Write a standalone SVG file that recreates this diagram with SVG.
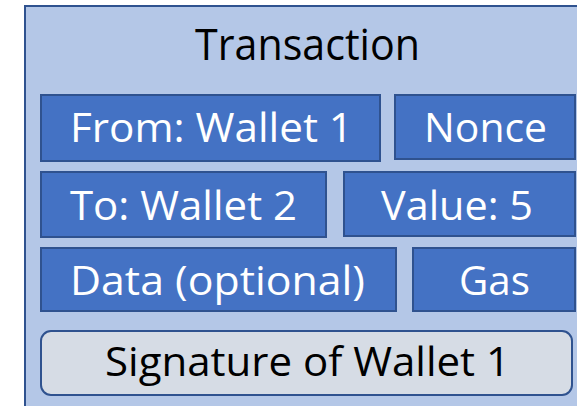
<svg xmlns="http://www.w3.org/2000/svg" width="577" height="406" viewBox="0 0 577 406">
  <style>
    .frame { fill: #B4C7E7; stroke: #2F528F; stroke-width: 2; }
    .field { fill: #4472C4; stroke: #2F528F; stroke-width: 2; }
    .sig { fill: #D6DCE5; stroke: #2F528F; stroke-width: 2; }
    text { font-family: "Open Sans", "Liberation Sans", sans-serif; font-size: 41px; text-anchor: middle; }
    .title { font-size: 44px; }
    .light { fill: #FFFFFF; }
    .dark { fill: #000000; }
  </style>
  <rect width="577" height="406" fill="#FFFFFF"/>

  <g id="transaction">
    <rect class="frame" x="25" y="6" width="570" height="420"/>
    <text class="dark title" x="307.5" y="60" textLength="225" lengthAdjust="spacingAndGlyphs">Transaction</text>
  </g>

  <g id="from">
    <rect class="field" x="41" y="95" width="339" height="66"/>
    <text class="light" x="211.5" y="142" textLength="283" lengthAdjust="spacingAndGlyphs">From: Wallet 1</text>
  </g>

  <g id="nonce">
    <rect class="field" x="395" y="95" width="180" height="64"/>
    <text class="light" x="485.5" y="142" textLength="123" lengthAdjust="spacingAndGlyphs">Nonce</text>
  </g>

  <g id="to">
    <rect class="field" x="41" y="172" width="285" height="65"/>
    <text class="light" x="183.5" y="220" textLength="227" lengthAdjust="spacingAndGlyphs">To: Wallet 2</text>
  </g>

  <g id="value">
    <rect class="field" x="344" y="172" width="231" height="64"/>
    <text class="light" x="457" y="220" textLength="152" lengthAdjust="spacingAndGlyphs">Value: 5</text>
  </g>

  <g id="data">
    <rect class="field" x="41" y="248" width="355" height="63"/>
    <text class="light" x="217.5" y="295" textLength="295" lengthAdjust="spacingAndGlyphs">Data (optional)</text>
  </g>

  <g id="gas">
    <rect class="field" x="413" y="248" width="162" height="63"/>
    <text class="light" x="494.5" y="295" textLength="71" lengthAdjust="spacingAndGlyphs">Gas</text>
  </g>

  <g id="signature">
    <rect class="sig" x="41" y="331" width="531" height="64" rx="10" ry="10"/>
    <text class="dark" x="307.5" y="376" textLength="405" lengthAdjust="spacingAndGlyphs">Signature of Wallet 1</text>
  </g>

  <g id="connectors"/>
</svg>
